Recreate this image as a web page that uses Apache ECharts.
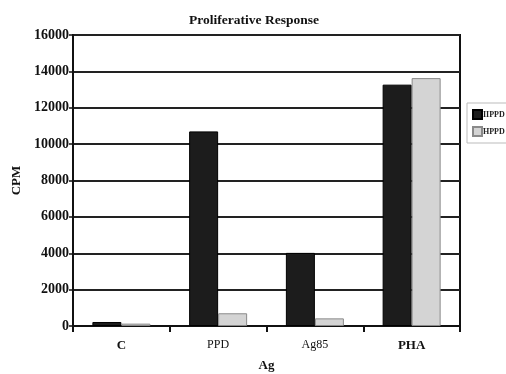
<!DOCTYPE html>
<html><head><meta charset="utf-8">
<script src="https://cdn.jsdelivr.net/npm/echarts@6/dist/echarts.min.js"></script>
<style>html,body{margin:0;padding:0;background:#fff}#c{width:506px;height:374px}</style>
</head><body><div id="c"></div>
<script>
var categories = ['C', 'PPD', 'Ag85', 'PHA'];
var seriesNames = ['IIPPD', 'HPPD'];
var darkValues = [220, 10700, 4020, 13270];
var lightValues = [130, 700, 420, 13630];
var yTicks = [0, 2000, 4000, 6000, 8000, 10000, 12000, 14000, 16000];

var font = 'Liberation Serif';
var chart = echarts.init(document.getElementById('c'), null, {renderer: 'canvas'});
chart.setOption({
  animation: false,
  backgroundColor: '#fff',
  title: {
    text: 'Proliferative Response', left: 249, top: 9, textAlign: 'center',
    textStyle: {fontFamily: font, fontSize: 13.5, fontWeight: 'bold', color: '#111'}
  },
  legend: {
    left: 467, top: 103, orient: 'vertical', itemWidth: 9, itemHeight: 9, itemGap: 6, icon: 'rect',
    padding: [6, 20, 6, 5],
    borderColor: '#bbb', borderWidth: 1,
    textStyle: {fontFamily: font, fontSize: 8, fontWeight: 'bold', color: '#222', padding: [0, 0, 0, -4]},
    data: seriesNames
  },
  grid: {left: 73, right: 46, top: 35, bottom: 48, show: true, borderColor: '#111', borderWidth: 2,
    containLabel: false, outerBoundsMode: 'none'},
  xAxis: {
    type: 'category', data: categories,
    name: 'Ag', nameLocation: 'middle', nameGap: 33,
    nameTextStyle: {fontFamily: font, fontSize: 13, fontWeight: 'bold', color: '#111'},
    axisLine: {lineStyle: {color: '#111', width: 2}},
    axisTick: {show: true, length: 6, lineStyle: {color: '#111', width: 2}},
    axisLabel: {
      fontFamily: font, fontSize: 12, color: '#111', margin: 13,
      formatter: function (v) { return (v === 'C' || v === 'PHA') ? '{b|' + v + '}' : '{n|' + v + '}'; },
      rich: {
        b: {fontFamily: font, fontSize: 13, fontWeight: 'bold', color: '#111'},
        n: {fontFamily: font, fontSize: 12, color: '#111'}
      }
    }
  },
  yAxis: {
    type: 'value', min: yTicks[0], max: yTicks[yTicks.length - 1], interval: yTicks[1] - yTicks[0],
    name: 'CPM', nameLocation: 'middle', nameGap: 50, nameRotate: 90,
    nameTextStyle: {fontFamily: font, fontSize: 13, fontWeight: 'bold', color: '#111'},
    axisLine: {show: true, lineStyle: {color: '#111', width: 2}},
    axisTick: {show: true, length: 4, lineStyle: {color: '#111', width: 1.5}},
    axisLabel: {fontFamily: font, fontSize: 14, fontWeight: 'bold', color: '#111', margin: 4,
      formatter: function (v) { return String(v); }},
    splitLine: {show: true, lineStyle: {color: '#222', width: 2}}
  },
  series: [
    {
      name: seriesNames[0], type: 'bar', data: darkValues, barWidth: 29, barGap: '0%',
      itemStyle: {color: '#1c1c1c', borderColor: '#000', borderWidth: 1}
    },
    {
      name: seriesNames[1], type: 'bar', data: lightValues, barWidth: 29,
      itemStyle: {color: '#d4d4d4', borderColor: '#8a8a8a', borderWidth: 1}
    }
  ]
});
</script></body></html>
